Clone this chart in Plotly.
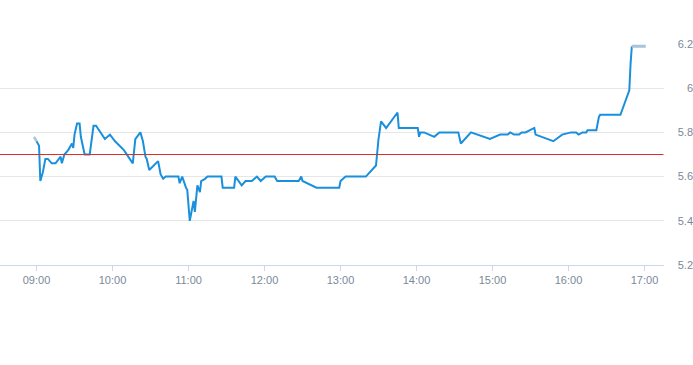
import plotly.graph_objects as go

DAY = "2024-01-02 "

# main intraday price series
times = ["09:00", "09:02", "09:03", "09:05", "09:07", "09:09", "09:12", "09:15", "09:19", "09:20",
         "09:22", "09:25", "09:28", "09:29", "09:30", "09:32", "09:34", "09:35", "09:38", "09:42",
         "09:45", "09:47", "09:54", "09:58", "10:02", "10:09", "10:16", "10:18", "10:22", "10:24",
         "10:26", "10:27", "10:29", "10:36", "10:38", "10:40", "10:42", "10:52", "10:53", "10:55",
         "10:58", "10:59", "11:01", "11:04", "11:05", "11:07", "11:09", "11:10", "11:13", "11:15",
         "11:26", "11:27", "11:36", "11:37", "11:42", "11:45", "11:50", "11:54", "11:57", "12:01",
         "12:08", "12:10", "12:27", "12:29", "12:30", "12:41", "12:59", "13:00", "13:04", "13:20",
         "13:28", "13:30", "13:32", "13:36", "13:45", "13:46", "14:01", "14:02", "14:03", "14:06",
         "14:14", "14:18", "14:33", "14:35", "14:43", "14:58", "15:06", "15:09", "15:12", "15:14",
         "15:17", "15:21", "15:23", "15:26", "15:33", "15:34", "15:48", "15:55", "16:02", "16:06",
         "16:08", "16:11", "16:14", "16:15", "16:22", "16:24", "16:25", "16:41", "16:44", "16:47",
         "16:48", "16:49", "16:50"]
prices = [5.76, 5.74, 5.58, 5.62, 5.68, 5.68, 5.66, 5.66, 5.69, 5.66,
          5.70, 5.72, 5.75, 5.73, 5.79, 5.84, 5.84, 5.78, 5.70, 5.70,
          5.83, 5.83, 5.77, 5.79, 5.76, 5.72, 5.66, 5.77, 5.80, 5.76,
          5.69, 5.68, 5.63, 5.67, 5.61, 5.59, 5.60, 5.60, 5.57, 5.60,
          5.55, 5.54, 5.40, 5.49, 5.44, 5.56, 5.53, 5.58, 5.59, 5.60,
          5.60, 5.55, 5.55, 5.60, 5.56, 5.58, 5.58, 5.60, 5.58, 5.60,
          5.60, 5.58, 5.58, 5.60, 5.58, 5.55, 5.55, 5.58, 5.60, 5.60,
          5.65, 5.77, 5.85, 5.82, 5.89, 5.82, 5.82, 5.78, 5.80, 5.80,
          5.78, 5.80, 5.80, 5.75, 5.80, 5.77, 5.79, 5.79, 5.79, 5.80,
          5.79, 5.79, 5.80, 5.80, 5.82, 5.79, 5.76, 5.79, 5.80, 5.80,
          5.79, 5.80, 5.80, 5.81, 5.81, 5.87, 5.88, 5.88, 5.93, 5.98,
          5.99, 6.11, 6.19]

# auction segments (lighter colour)
open_times = ["08:58", "09:00"]
open_prices = [5.78, 5.76]
close_times = ["16:50", "17:01"]
close_prices = [6.19, 6.19]

ref_price = 5.70
y_ticks = [5.2, 5.4, 5.6, 5.8, 6.0, 6.2]
y_tick_labels = ["5.2", "5.4", "5.6", "5.8", "6", "6.2"]
x_tick_labels = ["09:00", "10:00", "11:00", "12:00", "13:00", "14:00", "15:00", "16:00", "17:00"]
x_range = ["08:31:10", "17:15:00"]

def ts(lst):
    return [DAY + t for t in lst]

tick_font = dict(family="Liberation Sans, Arial, sans-serif", size=11, color="#7b8898")

fig = go.Figure()
fig.add_trace(go.Scatter(x=ts(open_times), y=open_prices, mode="lines",
                         line=dict(color="#a9c3d8", width=2.5), hoverinfo="skip", showlegend=False))
fig.add_trace(go.Scatter(x=ts(times), y=prices, mode="lines",
                         line=dict(color="#1a90dc", width=2), showlegend=False))
fig.add_trace(go.Scatter(x=ts(close_times), y=close_prices, mode="lines",
                         line=dict(color="#a9c3d8", width=3), hoverinfo="skip", showlegend=False))
# ghost trace for the label axis
fig.add_trace(go.Scatter(x=ts(["12:00"]), y=[5.2], yaxis="y2", mode="markers",
                         marker=dict(opacity=0), hoverinfo="skip", showlegend=False))

fig.add_shape(type="line", xref="x domain", x0=0, x1=1, yref="y", y0=ref_price, y1=ref_price,
              line=dict(color="#d9302b", width=1))

fig.update_layout(
    width=693, height=365,
    margin=dict(l=0, r=0, t=44, b=100),
    paper_bgcolor="white", plot_bgcolor="white",
    xaxis=dict(
        domain=[0, 663.5 / 693],
        type="date",
        range=ts(x_range),
        tickvals=ts(x_tick_labels),
        ticktext=x_tick_labels,
        showgrid=False, zeroline=False,
        showline=True, linecolor="#ccd6eb", linewidth=1,
        ticks="outside", ticklen=5, tickcolor="#ccd6eb",
        tickfont=tick_font, automargin=False,
    ),
    yaxis=dict(
        range=[5.2, 6.2],
        tickvals=y_ticks,
        showticklabels=False,
        showgrid=True, gridcolor="#e6e6e6", gridwidth=1,
        zeroline=False, showline=False, automargin=False,
    ),
    yaxis2=dict(
        overlaying="y", anchor="free", position=1, side="left",
        range=[5.2, 6.2],
        tickvals=y_ticks,
        ticktext=y_tick_labels,
        showgrid=False, zeroline=False, showline=False, ticks="",
        tickfont=tick_font, automargin=False,
    ),
)

fig.write_html("out.html", config={"displayModeBar": False},
               post_script="document.body.style.margin='0';document.body.style.overflow='hidden';")
